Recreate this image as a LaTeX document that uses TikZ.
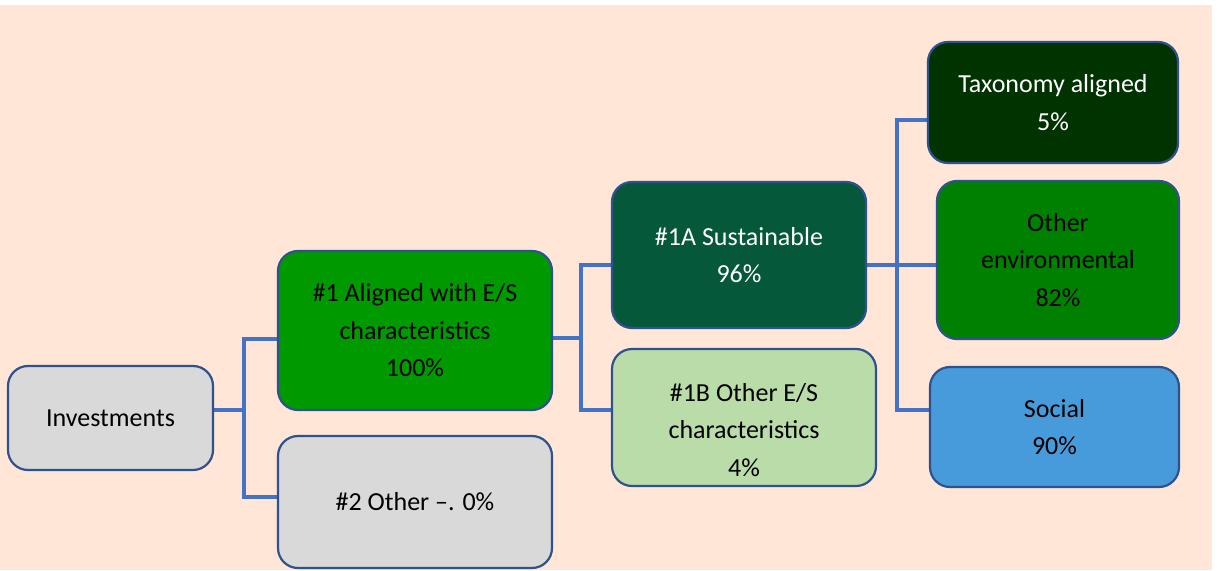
\documentclass[tikz,border=0pt]{standalone}
\usepackage{fontspec}
\setmainfont{Carlito}
\usepackage{xcolor}
\usetikzlibrary{positioning,backgrounds}
\definecolor{bgpeach}{HTML}{FFE6D6}
\definecolor{boxline}{HTML}{2F528F}
\definecolor{linkblue}{HTML}{4472C4}
\definecolor{boxgrey}{HTML}{D9D9D9}
\definecolor{grnmid}{HTML}{009900}
\definecolor{grndark}{HTML}{05583A}
\definecolor{grnlight}{HTML}{BADCA9}
\definecolor{grntax}{HTML}{003300}
\definecolor{grnenv}{HTML}{008000}
\definecolor{socblue}{HTML}{489BDA}
\tikzset{
  box/.style ={draw=boxline, line width=2.2pt, rounded corners=20pt, align=center, inner sep=0pt,
               font=\fontsize{26}{37.5}\selectfont},
  grey/.style ={box, fill=boxgrey},
  mid/.style  ={box, fill=grnmid},
  dark/.style ={box, fill=grndark, text=white},
  light/.style={box, fill=grnlight},
  tx/.style   ={box, fill=grntax, text=white},
  env/.style  ={box, fill=grnenv},
  soc/.style  ={box, fill=socblue},
  link/.style ={draw=linkblue, line width=4pt},
}

\begin{document}
\begin{tikzpicture}[x=1pt,y=1pt]
  \useasboundingbox (0,0) rectangle (1217,570);
  \node[grey, minimum width=205, minimum height=104] (inv) at (110.5,152) {Investments};
  \node[mid, minimum width=274, minimum height=159] (al) at (415,239.5) {\#1 Aligned with E/S\\characteristics\\100\%};
  \node[grey, minimum width=274, minimum height=132] (oth) at (415,68) {\#2 Other --. 0\%};
  \node[dark, minimum width=254, minimum height=146] (sus) at (739,315) {\#1A Sustainable\\96\%};
  \node[light, minimum width=264, minimum height=137] (oes) at (744,152.5) {\rule{0pt}{43pt}\#1B Other E/S\\characteristics\\4\%};
  \node[tx, minimum width=250, minimum height=121] (tax) at (1053,467.5) {Taxonomy aligned\\5\%};
  \node[env, minimum width=242, minimum height=158] (env) at (1058,310) {Other\\environmental\\82\%};
  \node[soc, minimum width=249, minimum height=120] (soc) at (1054.5,143) {Social\\90\%};
  \begin{scope}[on background layer]
    \fill[white] (0,0) rectangle (1217,570);
    \fill[bgpeach] (0,0) rectangle (1212,565);
    % level 1
    \draw[link] ([yshift=8]inv.east) -| ([xshift=-33,yshift=-9]al.west) -- ([yshift=-9]al.west);
    \draw[link] ([yshift=8]inv.east) -| ([xshift=-33,yshift=5]oth.west) -- ([yshift=5]oth.west);
    % level 2
    \draw[link] ([yshift=-8]al.east) -| ([xshift=-30,yshift=-10]sus.west) -- ([yshift=-10]sus.west);
    \draw[link] ([yshift=-8]al.east) -| ([xshift=-30,yshift=7.5]oes.west) -- ([yshift=7.5]oes.west);
    % level 3
    \draw[link] ([yshift=-10]sus.east) -| ([xshift=-30,yshift=-17.5]tax.west) -- ([yshift=-17.5]tax.west);
    \draw[link] ([yshift=-10]sus.east) -- ([yshift=-5]env.west);
    \draw[link] ([yshift=-10]sus.east) -| ([xshift=-32,yshift=17]soc.west) -- ([yshift=17]soc.west);
  \end{scope}
\end{tikzpicture}
\end{document}
